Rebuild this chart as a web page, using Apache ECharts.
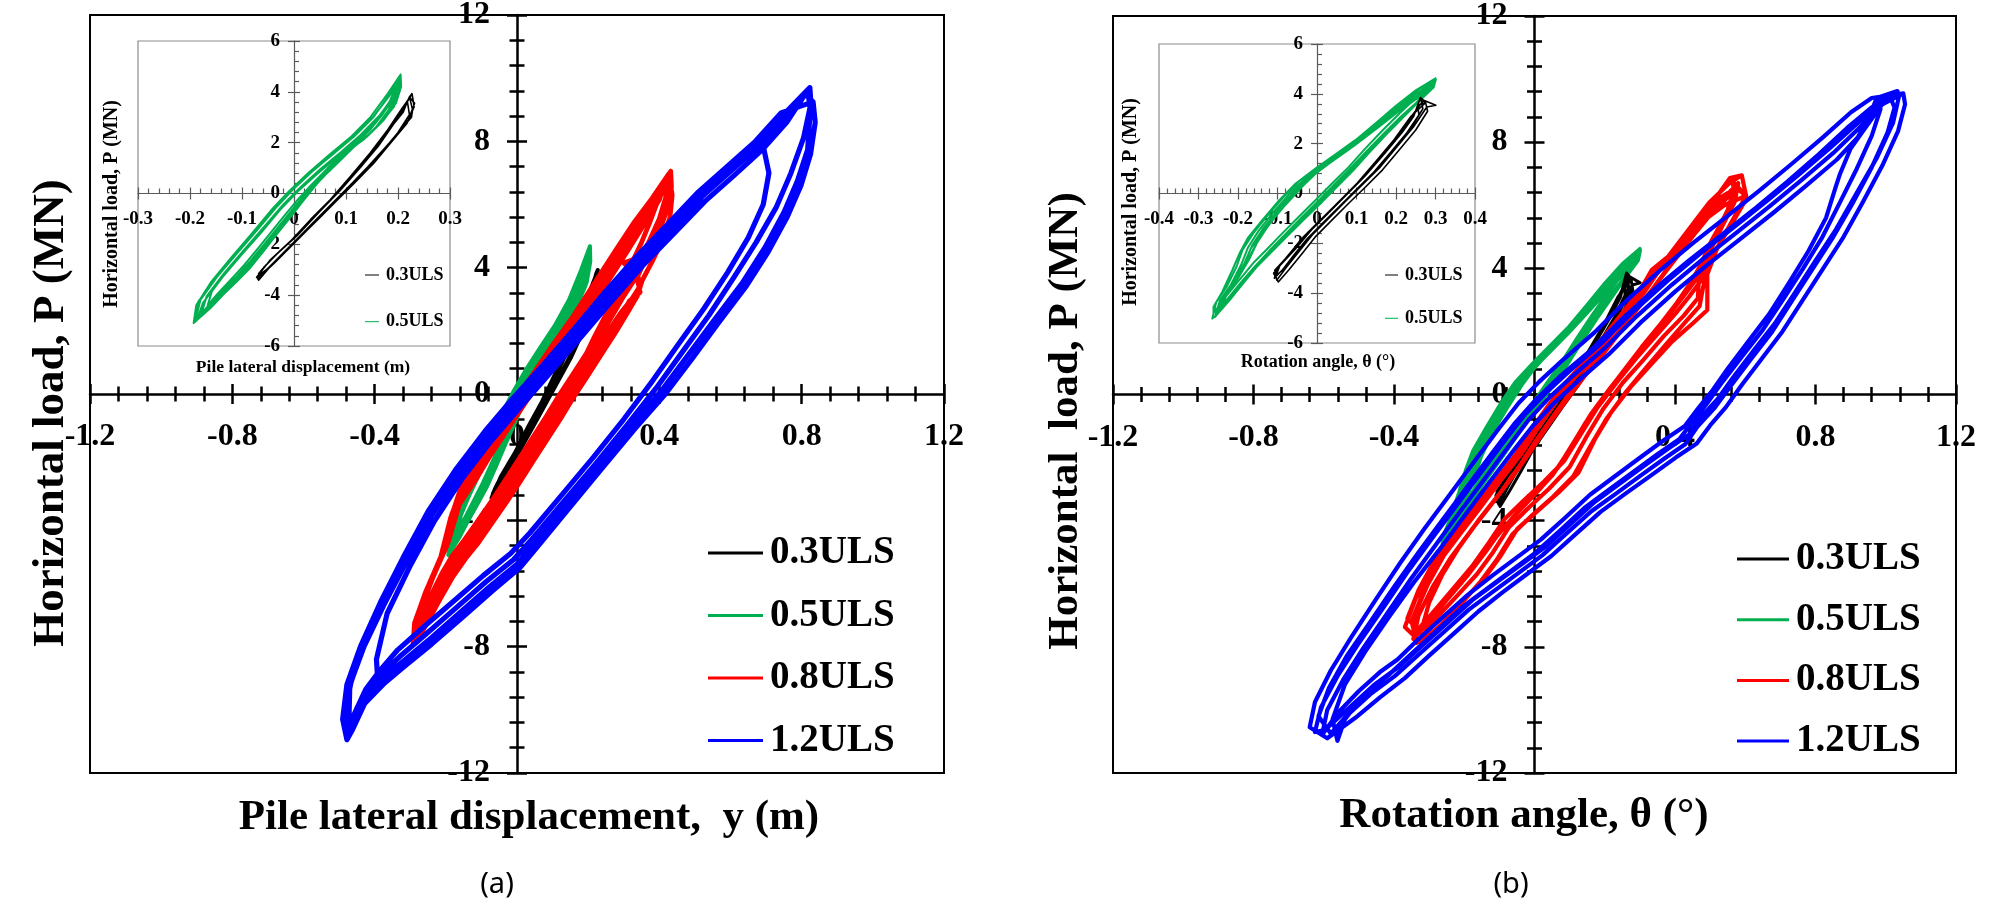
<!DOCTYPE html>
<html>
<head>
<meta charset="utf-8">
<script src="https://cdn.jsdelivr.net/npm/echarts@6/dist/echarts.min.js"></script>
<style>html,body{margin:0;padding:0;background:#fff;}#c{width:2008px;height:907px;}</style>
</head>
<body>
<div id="c"></div>
<script>
// ---------------- DATA ----------------
const seriesNames = ['0.3ULS', '0.5ULS', '0.8ULS', '1.2ULS'];
const mainXRange = [-1.2, 1.2, 0.4];
const mainYRange = [-12, 12, 4];
const insetAXRange = [-0.3, 0.3, 0.1];
const insetBXRange = [-0.4, 0.4, 0.1];
const insetYRange = [-6, 6, 2];

// (a) 1.2ULS : pile lateral displacement (m) vs load (MN)
const blueA1 = [[0.817,9.61],[0.824,9.02],[0.817,7.74],[0.788,6.74],[0.751,5.77],[0.697,4.64],[0.633,3.51],[0.557,2.38],[0.482,1.25],[0.407,0.12],[0.321,-1.01],[0.235,-2.17],[0.138,-3.50],[0.052,-4.69],[0.000,-5.39],[-0.077,-6.10],[-0.163,-6.95],[-0.249,-7.80],[-0.324,-8.50],[-0.378,-9.00],[-0.432,-9.63],[-0.469,-10.48],[-0.480,-10.84],[-0.483,-10.05],[-0.466,-9.10],[-0.430,-8.00],[-0.375,-6.70],[-0.310,-5.30],[-0.240,-3.85],[-0.160,-2.50],[-0.080,-1.35],[0.000,-0.30],[0.080,0.72],[0.170,1.90],[0.260,3.10],[0.350,4.25],[0.440,5.30],[0.520,6.25],[0.600,7.05],[0.680,7.85],[0.750,8.75],[0.817,9.61]];
const blueA2 = [[0.823,9.70],[0.826,9.20],[0.805,8.10],[0.770,7.00],[0.728,5.90],[0.672,4.80],[0.610,3.70],[0.540,2.50],[0.466,1.35],[0.392,0.20],[0.308,-1.00],[0.222,-2.20],[0.128,-3.45],[0.042,-4.60],[-0.010,-5.25],[-0.088,-5.95],[-0.172,-6.78],[-0.258,-7.62],[-0.330,-8.32],[-0.380,-8.85],[-0.420,-9.30],[-0.450,-9.95],[-0.468,-10.70],[-0.472,-10.20],[-0.470,-9.25],[-0.434,-8.02],[-0.379,-6.66],[-0.314,-5.24],[-0.244,-3.78],[-0.164,-2.43],[-0.084,-1.28],[-0.004,-0.23],[0.076,0.80],[0.166,1.98],[0.256,3.18],[0.346,4.33],[0.436,5.38],[0.516,6.33],[0.596,7.13],[0.676,7.93],[0.748,8.83],[0.823,9.70]];
const blueA3 = [[0.810,9.50],[0.775,8.95],[0.730,8.35],[0.692,7.85],[0.708,7.00],[0.692,6.00],[0.650,4.95],[0.592,3.85],[0.525,2.70],[0.452,1.55],[0.380,0.40],[0.300,-0.80],[0.215,-2.00],[0.122,-3.25],[0.036,-4.40],[-0.018,-5.05],[-0.095,-5.75],[-0.180,-6.58],[-0.265,-7.40],[-0.335,-8.10],[-0.385,-8.75],[-0.425,-9.35],[-0.460,-10.20],[-0.475,-10.75],[-0.445,-10.10],[-0.410,-9.35],[-0.392,-8.95],[-0.395,-8.40],[-0.365,-6.95],[-0.302,-5.48],[-0.232,-4.02],[-0.152,-2.65],[-0.072,-1.48],[0.008,-0.43],[0.088,0.60],[0.178,1.78],[0.268,2.97],[0.358,4.12],[0.448,5.16],[0.528,6.10],[0.608,6.90],[0.688,7.72],[0.758,8.60],[0.810,9.50]];
const blueA4 = [[0.832,9.25],[0.838,8.60],[0.825,7.60],[0.798,6.60],[0.760,5.62],[0.706,4.50],[0.642,3.38],[0.566,2.25],[0.492,1.12],[0.417,0.00],[0.330,-1.12],[0.244,-2.28],[0.146,-3.62],[0.060,-4.80],[0.008,-5.50],[-0.068,-6.22],[-0.154,-7.08],[-0.240,-7.92],[-0.316,-8.62],[-0.372,-9.15],[-0.428,-9.80],[-0.462,-10.62],[-0.478,-10.95],[-0.490,-10.30],[-0.478,-9.20],[-0.440,-8.00],[-0.384,-6.60],[-0.320,-5.18],[-0.250,-3.72],[-0.170,-2.36],[-0.090,-1.18],[-0.010,-0.12],[0.070,0.88],[0.160,2.05],[0.250,3.26],[0.340,4.40],[0.430,5.45],[0.510,6.40],[0.590,7.20],[0.670,8.00],[0.742,8.90],[0.832,9.25]];

// (a) 0.8ULS
const redA1 = [[0.426,6.96],[0.428,6.40],[0.414,5.70],[0.392,5.00],[0.362,4.30],[0.340,3.75],[0.345,3.40],[0.322,3.00],[0.290,2.55],[0.255,1.95],[0.215,1.25],[0.175,0.55],[0.140,-0.05],[0.105,-0.70],[0.065,-1.40],[0.025,-2.10],[-0.012,-2.75],[-0.050,-3.40],[-0.090,-4.05],[-0.130,-4.70],[-0.165,-5.20],[-0.197,-5.75],[-0.228,-6.40],[-0.260,-7.10],[-0.287,-7.80],[-0.281,-7.09],[-0.249,-6.10],[-0.206,-4.97],[-0.179,-3.70],[-0.150,-2.70],[-0.110,-1.95],[-0.060,-1.10],[-0.010,-0.25],[0.040,0.55],[0.100,1.55],[0.160,2.50],[0.220,3.55],[0.280,4.60],[0.330,5.45],[0.380,6.20],[0.426,6.96]];
const redA2 = [[0.418,6.80],[0.418,6.20],[0.402,5.50],[0.380,4.82],[0.350,4.12],[0.326,3.55],[0.300,3.10],[0.275,2.62],[0.243,2.00],[0.203,1.30],[0.163,0.60],[0.128,0.00],[0.093,-0.65],[0.053,-1.35],[0.013,-2.05],[-0.024,-2.70],[-0.062,-3.35],[-0.102,-4.00],[-0.142,-4.65],[-0.177,-5.18],[-0.208,-5.75],[-0.238,-6.42],[-0.268,-7.15],[-0.292,-7.92],[-0.288,-7.25],[-0.258,-6.30],[-0.214,-5.15],[-0.186,-3.90],[-0.140,-2.75],[-0.098,-1.98],[-0.048,-1.12],[0.002,-0.28],[0.052,0.52],[0.112,1.52],[0.172,2.48],[0.232,3.52],[0.292,4.58],[0.340,5.40],[0.388,6.10],[0.418,6.80]];
const redA3 = [[0.432,7.05],[0.434,6.55],[0.422,5.85],[0.400,5.15],[0.372,4.45],[0.300,4.15],[0.337,3.70],[0.346,3.22],[0.316,2.95],[0.300,2.60],[0.265,1.95],[0.225,1.25],[0.185,0.55],[0.150,-0.05],[0.115,-0.70],[0.075,-1.40],[0.035,-2.10],[-0.002,-2.75],[-0.040,-3.40],[-0.080,-4.05],[-0.120,-4.70],[-0.156,-5.20],[-0.188,-5.75],[-0.220,-6.40],[-0.252,-7.05],[-0.280,-7.62],[-0.276,-6.95],[-0.243,-5.95],[-0.198,-4.82],[-0.172,-3.55],[-0.126,-2.68],[-0.086,-1.92],[-0.036,-1.08],[0.014,-0.22],[0.064,0.58],[0.124,1.58],[0.184,2.54],[0.244,3.58],[0.302,4.62],[0.350,5.48],[0.398,6.25],[0.432,7.05]];
const redA4 = [[0.422,6.90],[0.420,6.30],[0.400,5.55],[0.372,4.85],[0.342,4.20],[0.318,3.62],[0.290,3.05],[0.262,2.55],[0.232,1.95],[0.193,1.25],[0.153,0.55],[0.118,-0.05],[0.083,-0.70],[0.043,-1.40],[0.003,-2.10],[-0.034,-2.75],[-0.072,-3.40],[-0.110,-4.02],[-0.148,-4.62],[-0.182,-5.12],[-0.212,-5.70],[-0.242,-6.38],[-0.270,-7.05],[-0.290,-7.70],[-0.275,-6.90],[-0.240,-5.90],[-0.195,-4.75],[-0.162,-3.50],[-0.115,-2.70],[-0.075,-1.95],[-0.025,-1.10],[0.025,-0.25],[0.075,0.55],[0.135,1.55],[0.195,2.50],[0.255,3.55],[0.312,4.55],[0.358,5.38],[0.400,6.15],[0.422,6.90]];
const redA5 = [[0.428,6.92],[0.436,6.30],[0.430,5.60],[0.410,4.90],[0.380,4.20],[0.352,3.60],[0.338,3.10],[0.312,2.60],[0.277,1.95],[0.237,1.25],[0.197,0.55],[0.162,-0.05],[0.127,-0.70],[0.087,-1.40],[0.047,-2.10],[0.010,-2.75],[-0.028,-3.40],[-0.068,-4.05],[-0.108,-4.70],[-0.145,-5.22],[-0.180,-5.78],[-0.214,-6.45],[-0.250,-7.20],[-0.284,-7.88],[-0.284,-7.20],[-0.252,-6.20],[-0.210,-5.05],[-0.183,-3.80],[-0.144,-2.72],[-0.104,-1.96],[-0.054,-1.12],[-0.004,-0.26],[0.046,0.54],[0.106,1.54],[0.166,2.50],[0.226,3.55],[0.286,4.60],[0.336,5.44],[0.384,6.18],[0.428,6.92]];
const redA6 = [[0.410,6.60],[0.392,6.00],[0.372,5.40],[0.350,4.80],[0.325,4.20],[0.300,3.60],[0.272,3.00],[0.245,2.40],[0.215,1.75],[0.185,1.05],[0.155,0.40],[0.122,-0.30],[0.085,-1.00],[0.045,-1.72],[0.006,-2.42],[-0.032,-3.08],[-0.070,-3.72],[-0.110,-4.38],[-0.150,-4.95],[-0.186,-5.50],[-0.218,-6.15],[-0.250,-6.85],[-0.278,-7.50],[-0.270,-6.80],[-0.236,-5.80],[-0.192,-4.65],[-0.160,-3.40],[-0.120,-2.60],[-0.080,-1.85],[-0.030,-1.00],[0.020,-0.15],[0.070,0.65],[0.130,1.62],[0.190,2.58],[0.250,3.62],[0.305,4.58],[0.352,5.40],[0.390,6.05],[0.410,6.60]];

// (a) 0.5ULS (also in inset a)
const greenA1 = [[0.203,4.61],[0.204,4.06],[0.192,3.41],[0.166,2.75],[0.140,2.23],[0.115,1.83],[0.096,1.44],[0.063,0.79],[0.038,0.26],[0.012,-0.39],[-0.013,-1.05],[-0.039,-1.70],[-0.065,-2.36],[-0.090,-3.01],[-0.116,-3.54],[-0.142,-4.06],[-0.167,-4.59],[-0.190,-5.05],[-0.180,-4.19],[-0.148,-3.28],[-0.110,-2.36],[-0.071,-1.44],[-0.033,-0.52],[0.000,0.20],[0.038,0.92],[0.076,1.57],[0.115,2.23],[0.153,3.01],[0.185,3.93],[0.203,4.61]];
const greenA2 = [[0.198,4.45],[0.196,3.90],[0.182,3.28],[0.158,2.62],[0.132,2.10],[0.106,1.70],[0.086,1.30],[0.054,0.66],[0.028,0.12],[0.002,-0.52],[-0.024,-1.18],[-0.050,-1.84],[-0.076,-2.50],[-0.101,-3.14],[-0.127,-3.68],[-0.152,-4.20],[-0.176,-4.70],[-0.186,-4.95],[-0.175,-4.30],[-0.142,-3.40],[-0.104,-2.48],[-0.064,-1.56],[-0.026,-0.62],[0.008,0.10],[0.046,0.80],[0.084,1.45],[0.122,2.12],[0.160,2.90],[0.190,3.80],[0.198,4.45]];
const greenA3 = [[0.205,4.68],[0.206,4.20],[0.196,3.55],[0.172,2.88],[0.146,2.36],[0.120,1.95],[0.100,1.56],[0.068,0.90],[0.044,0.38],[0.018,-0.28],[-0.007,-0.94],[-0.033,-1.60],[-0.058,-2.26],[-0.084,-2.92],[-0.110,-3.46],[-0.136,-3.98],[-0.160,-4.50],[-0.193,-5.10],[-0.188,-4.40],[-0.160,-3.50],[-0.122,-2.55],[-0.082,-1.60],[-0.044,-0.66],[-0.010,0.08],[0.028,0.82],[0.068,1.52],[0.108,2.20],[0.146,2.98],[0.180,3.92],[0.205,4.68]];
const greenA4 = [[0.200,4.30],[0.190,3.75],[0.170,3.10],[0.148,2.55],[0.124,2.05],[0.100,1.62],[0.075,1.12],[0.048,0.55],[0.020,-0.05],[-0.006,-0.70],[-0.032,-1.36],[-0.058,-2.02],[-0.084,-2.66],[-0.110,-3.25],[-0.136,-3.80],[-0.160,-4.30],[-0.178,-4.72],[-0.168,-4.05],[-0.135,-3.15],[-0.096,-2.22],[-0.058,-1.32],[-0.020,-0.42],[0.014,0.28],[0.052,0.98],[0.090,1.62],[0.128,2.30],[0.165,3.08],[0.188,3.70],[0.200,4.30]];
const greenA5 = [[0.202,4.52],[0.200,3.98],[0.187,3.35],[0.162,2.68],[0.136,2.16],[0.110,1.76],[0.091,1.37],[0.058,0.72],[0.033,0.19],[0.007,-0.46],[-0.018,-1.12],[-0.044,-1.78],[-0.070,-2.43],[-0.095,-3.08],[-0.121,-3.61],[-0.147,-4.13],[-0.172,-4.65],[-0.188,-5.00],[-0.184,-4.25],[-0.152,-3.35],[-0.116,-2.42],[-0.076,-1.50],[-0.038,-0.57],[-0.004,0.14],[0.034,0.86],[0.072,1.50],[0.112,2.18],[0.150,2.96],[0.184,3.86],[0.202,4.52]];
const greenA6 = [[0.196,4.20],[0.184,3.62],[0.162,2.98],[0.138,2.42],[0.114,1.92],[0.090,1.48],[0.064,0.98],[0.036,0.40],[0.008,-0.22],[-0.018,-0.86],[-0.044,-1.52],[-0.070,-2.18],[-0.096,-2.82],[-0.122,-3.40],[-0.146,-3.92],[-0.166,-4.40],[-0.158,-3.85],[-0.126,-2.98],[-0.088,-2.06],[-0.050,-1.18],[-0.012,-0.30],[0.022,0.40],[0.060,1.08],[0.098,1.72],[0.136,2.40],[0.170,3.12],[0.190,3.66],[0.196,4.20]];

// (a) 0.3ULS (also in inset a)
const blackA1 = [[0.227,3.93],[0.231,3.41],[0.217,2.75],[0.185,1.97],[0.153,1.18],[0.115,0.39],[0.083,-0.26],[0.051,-0.92],[0.019,-1.57],[-0.013,-2.23],[-0.046,-2.88],[-0.068,-3.41],[-0.068,-3.15],[-0.039,-2.49],[0.000,-1.77],[0.038,-0.92],[0.076,-0.13],[0.115,0.79],[0.153,1.70],[0.185,2.62],[0.211,3.41],[0.227,3.93]];
const blackA2 = [[0.222,3.80],[0.228,3.30],[0.226,3.00],[0.205,2.50],[0.176,1.82],[0.142,1.05],[0.106,0.28],[0.074,-0.38],[0.042,-1.04],[0.010,-1.70],[-0.022,-2.36],[-0.052,-2.98],[-0.072,-3.30],[-0.062,-3.00],[-0.032,-2.36],[0.006,-1.66],[0.044,-0.82],[0.082,-0.02],[0.120,0.88],[0.158,1.78],[0.188,2.66],[0.212,3.35],[0.222,3.80]];
const blackA3 = [[0.225,3.85],[0.232,3.55],[0.220,2.90],[0.195,2.25],[0.163,1.45],[0.125,0.62],[0.092,-0.06],[0.060,-0.72],[0.028,-1.38],[-0.004,-2.04],[-0.036,-2.70],[-0.066,-3.28],[-0.072,-3.30],[-0.045,-2.60],[-0.006,-1.86],[0.032,-1.02],[0.070,-0.24],[0.108,0.66],[0.146,1.58],[0.180,2.50],[0.206,3.30],[0.225,3.85]];
const blackA4 = [[0.218,3.62],[0.222,3.10],[0.200,2.40],[0.170,1.66],[0.136,0.88],[0.100,0.12],[0.068,-0.52],[0.036,-1.18],[0.004,-1.84],[-0.028,-2.50],[-0.058,-3.10],[-0.070,-3.36],[-0.058,-2.90],[-0.026,-2.24],[0.012,-1.52],[0.050,-0.70],[0.088,0.10],[0.126,0.98],[0.162,1.86],[0.192,2.74],[0.210,3.20],[0.218,3.62]];

// (b) 1.2ULS : rotation angle (deg) vs load (MN)
const blueB1 = [[1.033,9.62],[1.038,9.47],[1.021,8.62],[0.974,7.49],[0.916,6.36],[0.858,5.23],[0.800,4.24],[0.742,3.24],[0.684,2.25],[0.625,1.41],[0.567,0.56],[0.521,-0.15],[0.474,-0.72],[0.439,-1.28],[0.381,-1.71],[0.311,-2.27],[0.241,-2.84],[0.172,-3.40],[0.102,-4.11],[0.032,-4.82],[-0.038,-5.39],[-0.108,-5.95],[-0.177,-6.52],[-0.247,-7.23],[-0.317,-7.93],[-0.387,-8.64],[-0.457,-9.21],[-0.526,-9.92],[-0.596,-10.63],[-0.625,-10.70],[-0.608,-9.92],[-0.561,-8.93],[-0.503,-7.93],[-0.433,-6.80],[-0.364,-5.67],[-0.294,-4.60],[-0.224,-3.55],[-0.154,-2.50],[-0.084,-1.45],[-0.026,-0.62],[0.032,0.05],[0.100,0.75],[0.190,1.62],[0.280,2.62],[0.380,3.62],[0.470,4.45],[0.567,5.30],[0.660,6.12],[0.750,6.95],[0.840,7.80],[0.920,8.60],[0.980,9.20],[1.033,9.62]];
const blueB2 = [[0.974,9.40],[0.985,9.05],[0.960,8.20],[0.915,7.10],[0.870,6.10],[0.820,5.00],[0.765,4.00],[0.708,3.02],[0.650,2.05],[0.592,1.22],[0.535,0.40],[0.490,-0.30],[0.448,-0.90],[0.412,-1.42],[0.352,-1.88],[0.282,-2.45],[0.212,-3.02],[0.142,-3.60],[0.072,-4.32],[0.002,-5.02],[-0.068,-5.60],[-0.138,-6.18],[-0.208,-6.76],[-0.278,-7.48],[-0.348,-8.20],[-0.418,-8.92],[-0.488,-9.55],[-0.540,-10.30],[-0.561,-10.98],[-0.575,-10.30],[-0.540,-9.20],[-0.482,-8.15],[-0.412,-7.02],[-0.343,-5.95],[-0.273,-4.95],[-0.203,-3.90],[-0.133,-2.85],[-0.063,-1.82],[-0.005,-1.00],[0.053,-0.30],[0.121,0.40],[0.211,1.27],[0.301,2.27],[0.401,3.27],[0.491,4.10],[0.588,4.95],[0.681,5.77],[0.771,6.60],[0.861,7.45],[0.920,8.15],[0.955,8.85],[0.974,9.40]];
const blueB3 = [[1.050,9.55],[1.055,9.20],[1.035,8.35],[0.990,7.25],[0.935,6.10],[0.880,5.00],[0.822,4.00],[0.764,3.00],[0.706,2.00],[0.648,1.15],[0.590,0.30],[0.545,-0.40],[0.500,-0.98],[0.462,-1.55],[0.402,-2.00],[0.330,-2.58],[0.258,-3.15],[0.188,-3.72],[0.118,-4.42],[0.048,-5.12],[-0.022,-5.70],[-0.092,-6.28],[-0.160,-6.88],[-0.230,-7.58],[-0.300,-8.28],[-0.370,-9.00],[-0.440,-9.60],[-0.510,-10.25],[-0.590,-10.90],[-0.640,-10.55],[-0.625,-9.75],[-0.580,-8.75],[-0.522,-7.70],[-0.452,-6.50],[-0.383,-5.35],[-0.313,-4.25],[-0.243,-3.20],[-0.173,-2.15],[-0.103,-1.10],[-0.045,-0.27],[0.013,0.40],[0.081,1.10],[0.171,1.97],[0.261,2.97],[0.361,3.97],[0.451,4.80],[0.548,5.65],[0.641,6.47],[0.731,7.30],[0.821,8.15],[0.901,8.95],[0.960,9.40],[1.050,9.55]];
const blueB4 = [[0.990,9.20],[0.945,8.50],[0.900,7.80],[0.870,7.00],[0.858,6.60],[0.830,5.60],[0.780,4.55],[0.725,3.55],[0.668,2.55],[0.610,1.70],[0.552,0.85],[0.508,0.15],[0.465,-0.45],[0.428,-1.00],[0.368,-1.45],[0.298,-2.02],[0.228,-2.60],[0.158,-3.18],[0.088,-3.90],[0.018,-4.60],[-0.052,-5.18],[-0.122,-5.76],[-0.190,-6.35],[-0.260,-7.05],[-0.330,-7.75],[-0.390,-8.40],[-0.440,-8.80],[-0.500,-9.40],[-0.560,-10.10],[-0.605,-10.80],[-0.590,-10.00],[-0.545,-9.05],[-0.488,-8.05],[-0.420,-6.95],[-0.352,-5.85],[-0.282,-4.78],[-0.212,-3.72],[-0.142,-2.67],[-0.072,-1.62],[-0.015,-0.78],[0.042,-0.10],[0.110,0.60],[0.200,1.47],[0.290,2.47],[0.390,3.47],[0.480,4.30],[0.577,5.15],[0.670,5.97],[0.760,6.80],[0.850,7.65],[0.920,8.40],[0.960,8.85],[0.990,9.20]];
const blueB5 = [[1.010,9.50],[1.025,9.10],[1.005,8.30],[0.960,7.20],[0.905,6.05],[0.848,4.95],[0.790,3.95],[0.732,2.95],[0.674,1.95],[0.615,1.10],[0.557,0.25],[0.511,-0.45],[0.464,-1.02],[0.429,-1.58],[0.371,-2.02],[0.301,-2.58],[0.231,-3.15],[0.162,-3.70],[0.092,-4.40],[0.022,-5.10],[-0.048,-5.68],[-0.118,-6.25],[-0.187,-6.82],[-0.257,-7.52],[-0.327,-8.22],[-0.397,-8.92],[-0.467,-9.50],[-0.536,-10.20],[-0.580,-10.75],[-0.615,-10.20],[-0.585,-9.30],[-0.535,-8.30],[-0.470,-7.25],[-0.400,-6.10],[-0.330,-5.00],[-0.260,-3.95],[-0.190,-2.90],[-0.120,-1.85],[-0.055,-0.90],[0.005,-0.15],[0.070,0.55],[0.160,1.40],[0.250,2.40],[0.350,3.42],[0.440,4.25],[0.537,5.10],[0.630,5.92],[0.720,6.75],[0.810,7.62],[0.890,8.45],[0.960,9.10],[1.010,9.50]];

// (b) 0.8ULS
const redB1 = [[0.590,6.95],[0.604,6.22],[0.567,5.51],[0.521,4.66],[0.492,3.81],[0.492,2.68],[0.451,2.26],[0.393,1.69],[0.334,0.98],[0.276,0.27],[0.218,-0.57],[0.172,-1.42],[0.125,-2.48],[0.067,-3.12],[0.009,-3.69],[-0.049,-4.26],[-0.096,-5.11],[-0.142,-5.81],[-0.201,-6.52],[-0.259,-7.23],[-0.323,-7.87],[-0.369,-7.37],[-0.340,-6.52],[-0.294,-5.53],[-0.236,-4.68],[-0.177,-3.83],[-0.119,-2.98],[-0.061,-2.13],[-0.015,-1.28],[0.031,-0.57],[0.078,0.13],[0.136,0.84],[0.206,1.83],[0.276,2.82],[0.334,3.95],[0.381,4.38],[0.439,5.23],[0.497,6.08],[0.556,6.71],[0.590,6.95]];
const redB2 = [[0.556,6.86],[0.575,6.40],[0.545,5.70],[0.505,4.90],[0.470,4.05],[0.465,3.05],[0.425,2.50],[0.368,1.85],[0.310,1.10],[0.252,0.38],[0.196,-0.45],[0.150,-1.30],[0.100,-2.30],[0.042,-2.98],[-0.016,-3.58],[-0.072,-4.20],[-0.118,-5.00],[-0.164,-5.70],[-0.222,-6.40],[-0.280,-7.10],[-0.335,-7.87],[-0.350,-7.20],[-0.318,-6.30],[-0.272,-5.30],[-0.214,-4.45],[-0.155,-3.60],[-0.098,-2.75],[-0.040,-1.92],[0.005,-1.08],[0.050,-0.38],[0.098,0.32],[0.156,1.04],[0.226,2.02],[0.296,3.00],[0.352,4.02],[0.400,4.55],[0.458,5.38],[0.514,6.20],[0.556,6.86]];
const redB3 = [[0.602,6.30],[0.580,5.85],[0.540,5.05],[0.500,4.25],[0.480,3.40],[0.470,2.80],[0.430,2.30],[0.375,1.60],[0.318,0.85],[0.262,0.10],[0.206,-0.75],[0.160,-1.62],[0.110,-2.60],[0.052,-3.25],[-0.006,-3.82],[-0.062,-4.42],[-0.108,-5.25],[-0.155,-5.95],[-0.212,-6.68],[-0.270,-7.35],[-0.310,-7.70],[-0.362,-7.10],[-0.330,-6.20],[-0.284,-5.25],[-0.226,-4.40],[-0.168,-3.55],[-0.110,-2.72],[-0.052,-1.88],[-0.006,-1.06],[0.040,-0.34],[0.088,0.36],[0.146,1.10],[0.216,2.10],[0.286,3.10],[0.345,3.95],[0.420,4.70],[0.480,5.50],[0.540,6.00],[0.602,6.30]];
const redB4 = [[0.575,6.55],[0.560,6.00],[0.525,5.20],[0.492,4.35],[0.480,3.70],[0.440,3.10],[0.400,2.55],[0.345,1.85],[0.290,1.15],[0.235,0.40],[0.180,-0.40],[0.135,-1.20],[0.085,-2.10],[0.028,-2.75],[-0.030,-3.35],[-0.085,-3.95],[-0.130,-4.70],[-0.178,-5.45],[-0.235,-6.20],[-0.292,-6.95],[-0.340,-7.55],[-0.340,-6.95],[-0.305,-6.05],[-0.258,-5.10],[-0.200,-4.25],[-0.142,-3.40],[-0.085,-2.56],[-0.028,-1.72],[0.018,-0.92],[0.064,-0.20],[0.112,0.50],[0.170,1.25],[0.240,2.22],[0.310,3.20],[0.366,4.12],[0.420,4.90],[0.476,5.70],[0.530,6.25],[0.575,6.55]];
const redB5 = [[0.580,6.70],[0.570,6.10],[0.535,5.35],[0.500,4.55],[0.470,3.80],[0.430,3.20],[0.385,2.55],[0.330,1.80],[0.272,1.00],[0.215,0.20],[0.162,-0.60],[0.115,-1.45],[0.068,-2.30],[0.015,-3.00],[-0.040,-3.65],[-0.095,-4.30],[-0.140,-5.00],[-0.188,-5.70],[-0.245,-6.45],[-0.300,-7.20],[-0.345,-7.75],[-0.330,-7.00],[-0.290,-6.10],[-0.240,-5.20],[-0.180,-4.30],[-0.120,-3.45],[-0.062,-2.60],[-0.008,-1.75],[0.040,-0.95],[0.090,-0.20],[0.140,0.55],[0.200,1.35],[0.265,2.30],[0.330,3.25],[0.385,4.10],[0.440,4.95],[0.495,5.75],[0.545,6.30],[0.580,6.70]];
const redB6 = [[0.565,6.40],[0.550,5.85],[0.515,5.05],[0.480,4.25],[0.445,3.55],[0.405,2.90],[0.360,2.25],[0.305,1.50],[0.250,0.70],[0.195,-0.10],[0.145,-0.90],[0.100,-1.75],[0.052,-2.55],[-0.002,-3.20],[-0.058,-3.85],[-0.112,-4.55],[-0.160,-5.25],[-0.210,-6.00],[-0.268,-6.75],[-0.320,-7.40],[-0.300,-6.60],[-0.262,-5.70],[-0.215,-4.85],[-0.160,-4.00],[-0.100,-3.15],[-0.045,-2.30],[0.005,-1.45],[0.052,-0.70],[0.100,0.05],[0.152,0.80],[0.215,1.65],[0.285,2.60],[0.350,3.55],[0.405,4.35],[0.460,5.15],[0.515,5.90],[0.565,6.40]];

// (b) 0.5ULS (also in inset b)
const greenB1 = [[0.301,4.58],[0.295,4.25],[0.261,3.74],[0.219,3.07],[0.177,2.40],[0.134,1.67],[0.092,0.93],[0.050,0.26],[0.008,-0.41],[-0.035,-1.07],[-0.077,-1.74],[-0.119,-2.41],[-0.153,-2.95],[-0.187,-3.61],[-0.221,-4.28],[-0.255,-4.89],[-0.265,-5.02],[-0.255,-4.36],[-0.229,-3.75],[-0.204,-2.95],[-0.189,-2.28],[-0.162,-1.61],[-0.128,-0.94],[-0.085,-0.14],[-0.043,0.53],[0.008,1.13],[0.058,1.67],[0.109,2.27],[0.160,2.94],[0.211,3.61],[0.261,4.21],[0.301,4.58]];
const greenB2 = [[0.296,4.50],[0.285,4.10],[0.248,3.58],[0.205,2.92],[0.162,2.24],[0.120,1.52],[0.078,0.80],[0.036,0.12],[-0.006,-0.55],[-0.048,-1.22],[-0.090,-1.90],[-0.130,-2.55],[-0.165,-3.12],[-0.198,-3.78],[-0.230,-4.42],[-0.258,-4.95],[-0.246,-4.30],[-0.218,-3.66],[-0.192,-2.86],[-0.175,-2.18],[-0.148,-1.50],[-0.114,-0.82],[-0.070,-0.02],[-0.028,0.64],[0.022,1.22],[0.072,1.76],[0.122,2.36],[0.172,3.02],[0.222,3.66],[0.270,4.20],[0.296,4.50]];
const greenB3 = [[0.300,4.62],[0.290,4.35],[0.252,3.86],[0.208,3.20],[0.165,2.52],[0.122,1.80],[0.080,1.06],[0.038,0.40],[-0.004,-0.27],[-0.046,-0.93],[-0.088,-1.60],[-0.128,-2.26],[-0.162,-2.80],[-0.196,-3.46],[-0.230,-4.12],[-0.262,-4.80],[-0.262,-4.55],[-0.240,-3.95],[-0.215,-3.10],[-0.196,-2.40],[-0.175,-1.78],[-0.140,-1.10],[-0.096,-0.28],[-0.054,0.40],[-0.004,1.00],[0.046,1.56],[0.098,2.15],[0.150,2.84],[0.200,3.52],[0.250,4.14],[0.300,4.62]];
const greenB4 = [[0.285,4.30],[0.270,3.90],[0.232,3.36],[0.190,2.70],[0.148,2.02],[0.106,1.32],[0.064,0.62],[0.022,-0.06],[-0.020,-0.72],[-0.062,-1.40],[-0.104,-2.06],[-0.142,-2.70],[-0.176,-3.30],[-0.210,-3.95],[-0.240,-4.55],[-0.228,-4.00],[-0.200,-3.40],[-0.172,-2.65],[-0.152,-1.98],[-0.124,-1.30],[-0.090,-0.62],[-0.046,0.16],[-0.004,0.80],[0.044,1.36],[0.094,1.92],[0.144,2.52],[0.194,3.16],[0.242,3.78],[0.285,4.30]];
const greenB5 = [[0.292,4.40],[0.278,4.00],[0.240,3.46],[0.198,2.80],[0.155,2.12],[0.113,1.40],[0.071,0.70],[0.029,0.02],[-0.013,-0.64],[-0.055,-1.30],[-0.097,-1.98],[-0.136,-2.62],[-0.170,-3.20],[-0.204,-3.86],[-0.236,-4.50],[-0.250,-4.75],[-0.238,-4.15],[-0.210,-3.52],[-0.182,-2.76],[-0.164,-2.08],[-0.136,-1.40],[-0.102,-0.72],[-0.058,0.06],[-0.016,0.72],[0.034,1.28],[0.084,1.84],[0.134,2.44],[0.184,3.08],[0.234,3.72],[0.278,4.24],[0.292,4.40]];
const greenB6 = [[0.280,4.15],[0.262,3.78],[0.224,3.24],[0.182,2.58],[0.140,1.90],[0.098,1.20],[0.056,0.50],[0.014,-0.18],[-0.028,-0.84],[-0.070,-1.52],[-0.112,-2.18],[-0.150,-2.82],[-0.184,-3.42],[-0.218,-4.08],[-0.246,-4.65],[-0.236,-4.20],[-0.212,-3.60],[-0.186,-2.88],[-0.168,-2.22],[-0.138,-1.52],[-0.102,-0.82],[-0.060,-0.05],[-0.018,0.62],[0.030,1.20],[0.080,1.76],[0.130,2.36],[0.180,3.00],[0.230,3.62],[0.280,4.15]];
const greenB7 = [[0.270,4.00],[0.250,3.62],[0.212,3.08],[0.170,2.42],[0.128,1.74],[0.086,1.04],[0.044,0.36],[0.002,-0.32],[-0.040,-0.98],[-0.082,-1.66],[-0.122,-2.32],[-0.160,-2.98],[-0.194,-3.60],[-0.226,-4.22],[-0.244,-4.50],[-0.226,-3.90],[-0.198,-3.25],[-0.170,-2.52],[-0.148,-1.84],[-0.116,-1.14],[-0.080,-0.46],[-0.036,0.30],[0.006,0.94],[0.054,1.48],[0.104,2.04],[0.154,2.64],[0.204,3.26],[0.250,3.78],[0.270,4.00]];

// (b) 0.3ULS (also in inset b)
const blackB1 = [[0.270,3.74],[0.301,3.54],[0.278,3.47],[0.244,2.67],[0.202,1.87],[0.160,1.06],[0.118,0.40],[0.075,-0.27],[0.033,-0.94],[-0.009,-1.61],[-0.043,-2.28],[-0.077,-2.95],[-0.102,-3.48],[-0.107,-3.08],[-0.068,-2.41],[-0.026,-1.61],[0.025,-0.81],[0.067,-0.14],[0.109,0.53],[0.160,1.47],[0.202,2.27],[0.244,3.20],[0.270,3.74]];
const blackB2 = [[0.262,3.85],[0.268,3.40],[0.236,2.58],[0.194,1.78],[0.152,0.98],[0.110,0.32],[0.067,-0.36],[0.025,-1.03],[-0.017,-1.70],[-0.051,-2.36],[-0.085,-3.02],[-0.108,-3.40],[-0.100,-3.00],[-0.060,-2.32],[-0.018,-1.52],[0.033,-0.72],[0.075,-0.05],[0.117,0.62],[0.168,1.56],[0.210,2.36],[0.248,3.25],[0.262,3.85]];
const blackB3 = [[0.275,3.65],[0.280,3.30],[0.250,2.55],[0.208,1.75],[0.166,0.95],[0.124,0.28],[0.081,-0.38],[0.039,-1.05],[-0.003,-1.72],[-0.037,-2.40],[-0.071,-3.06],[-0.098,-3.55],[-0.110,-3.20],[-0.075,-2.52],[-0.033,-1.72],[0.018,-0.92],[0.060,-0.25],[0.102,0.42],[0.153,1.36],[0.195,2.16],[0.238,3.10],[0.275,3.65]];
const blackB4 = [[0.255,3.55],[0.258,3.15],[0.228,2.45],[0.186,1.65],[0.144,0.86],[0.102,0.20],[0.059,-0.48],[0.017,-1.15],[-0.025,-1.82],[-0.059,-2.48],[-0.090,-3.12],[-0.104,-3.30],[-0.094,-2.90],[-0.054,-2.22],[-0.012,-1.42],[0.039,-0.62],[0.081,0.05],[0.123,0.72],[0.174,1.66],[0.216,2.46],[0.245,3.10],[0.255,3.55]];

// ---------------- CHART ----------------
const FONT = '"Liberation Serif", "Times New Roman", serif';
const COLORS = {'0.3ULS':'#000000','0.5ULS':'#00B050','0.8ULS':'#FF0000','1.2ULS':'#0000FF'};

const blackA = [].concat(blackA1, blackA2, blackA3, blackA4);
const greenA = [].concat(greenA1, greenA2, greenA3, greenA4, greenA5, greenA6);
const redA = [].concat(redA1, redA2, redA3, redA4, redA5, redA6);
const blueA = [].concat(blueA1, blueA2, blueA3, blueA4);
const blackB = [].concat(blackB1, blackB2, blackB3, blackB4);
const greenB = [].concat(greenB1, greenB2, greenB3, greenB4, greenB5, greenB6, greenB7);
const redB = [].concat(redB1, redB2, redB3, redB4, redB5, redB6);
const blueB = [].concat(blueB1, blueB2, blueB3, blueB4, blueB5);

const grids = [
  {left:90, top:15, width:854, height:758, show:true, borderColor:'#000', borderWidth:2, backgroundColor:'transparent', outerBoundsMode:'none', containLabel:false},
  {left:138, top:41, width:312, height:305, show:true, borderColor:'#8c8c8c', borderWidth:1.2, backgroundColor:'transparent', outerBoundsMode:'none', containLabel:false},
  {left:1113, top:16, width:843, height:757, show:true, borderColor:'#000', borderWidth:2, backgroundColor:'transparent', outerBoundsMode:'none', containLabel:false},
  {left:1159, top:44, width:316, height:299, show:true, borderColor:'#8c8c8c', borderWidth:1.2, backgroundColor:'transparent', outerBoundsMode:'none', containLabel:false}
];

function fmt(v) { return '{t|' + (+(+v).toFixed(3)) + '}'; }

// place each axis on the zero line of the other axis using offset
function axisPair(dim, g, range, otherRange, main) {
  const gr = grids[g];
  const size = dim === 'x' ? gr.height : gr.width;
  const zeroOff = -size * (0 - otherRange[0]) / (otherRange[1] - otherRange[0]);
  const c = main ? '#000' : '#5a5a5a';
  const lw = main ? 2.5 : 1.2;
  const tl = main ? 10 : 6;
  const ml = main ? 7.5 : 5;
  const fs = main ? 32 : 19;
  const base = {type:'value', gridIndex:g, min:range[0], max:range[1], interval:range[2],
    position: dim === 'x' ? 'bottom' : 'left', offset: zeroOff,
    splitLine:{show:false}, minorSplitLine:{show:false}};
  const lbl = {show:true, margin: main ? 27 : (dim==='x'?16:14),
    formatter: fmt, fontFamily:FONT, fontWeight:'bold', fontSize:fs, color:'#000',
    rich:{t:{fontFamily:FONT, fontWeight:'bold', fontSize:fs, lineHeight:fs, color:'#000'}},
    showMinLabel:true, showMaxLabel:true, hideOverlap:false};
  const outer = Object.assign({}, base, {
    axisLine:{show:true, onZero:false, lineStyle:{color:c, width:lw}},
    axisTick:{show:true, inside:false, length:tl, lineStyle:{color:c, width:lw}},
    minorTick:{show:main, splitNumber:5, length:ml, lineStyle:{color:c, width:lw}},
    axisLabel:lbl});
  const inner = Object.assign({}, base, {
    axisLine:{show:false, onZero:false},
    axisTick:{show:true, inside:true, length:tl, lineStyle:{color:c, width:lw}},
    minorTick:{show:true, splitNumber:5, length:ml, lineStyle:{color:c, width:lw}},
    axisLabel:{show:false}});
  return [outer, inner];
}

const xAxes = [].concat(
  axisPair('x', 0, mainXRange, mainYRange, true), axisPair('x', 1, insetAXRange, insetYRange, false),
  axisPair('x', 2, mainXRange, mainYRange, true), axisPair('x', 3, insetBXRange, insetYRange, false));
const yAxes = [].concat(
  axisPair('y', 0, mainYRange, mainXRange, true), axisPair('y', 1, insetYRange, insetAXRange, false),
  axisPair('y', 2, mainYRange, mainXRange, true), axisPair('y', 3, insetYRange, insetBXRange, false));

function ser(name, data, g, width) {
  return {type:'line', name:name, data:data, xAxisIndex:2*g, yAxisIndex:2*g,
    showSymbol:false, symbol:'none', animation:false, silent:true, clip:true,
    color:COLORS[name], itemStyle:{color:COLORS[name]},
    lineStyle:{color:COLORS[name], width:width, join:'round'}};
}
const series = [
  ser(seriesNames[1], greenA, 0, 4.0), ser(seriesNames[0], blackA, 0, 3.8),
  ser(seriesNames[2], redA, 0, 4.8), ser(seriesNames[3], blueA, 0, 5.2),
  ser(seriesNames[1], greenA, 1, 2.0), ser(seriesNames[0], blackA, 1, 1.6),
  ser(seriesNames[1], greenB, 2, 3.6), ser(seriesNames[0], blackB, 2, 3.0),
  ser(seriesNames[2], redB, 2, 4.2), ser(seriesNames[3], blueB, 2, 4.2),
  ser(seriesNames[1], greenB, 3, 2.0), ser(seriesNames[0], blackB, 3, 1.6)
];

function legend(left, top, names, iw, ih, fs, lh, gap) {
  return {show:true, orient:'vertical', left:left, top:top, padding:0, data:names,
    icon:'rect', itemWidth:iw, itemHeight:ih, itemGap:gap, selectedMode:false,
    textStyle:{fontFamily:FONT, fontWeight:'bold', fontSize:fs, lineHeight:lh, color:'#000', padding:[0,0,0,2]}};
}
const legends = [
  legend(708, 533, seriesNames, 55, 3, 39, 40, 22.5),
  legend(1737, 539, seriesNames, 52, 3, 39, 40, 20.7),
  legend(365, 265, seriesNames.slice(0,2), 14, 1, 18, 20, 26.7),
  legend(1385, 265, seriesNames.slice(0,2), 13, 1, 18, 20, 23.3)
];

function txt(x, y, text, font, rot) {
  return {type:'text', x:x, y:y, rotation:rot||0, silent:true,
    style:{text:text, x:0, y:0, font:font, fill:'#000', textAlign:'center', verticalAlign:'middle', textVerticalAlign:'middle'}};
}
const graphics = [
  txt(51, 413, 'Horizontal load, P (MN)', 'bold 45px ' + FONT, Math.PI/2),
  txt(1066, 421, 'Horizontal  load, P (MN)', 'bold 43px ' + FONT, Math.PI/2),
  txt(529, 818, 'Pile lateral displacement,  y (m)', 'bold 43px ' + FONT),
  txt(1524, 816, 'Rotation angle, \u03B8 (\u00B0)', 'bold 43px ' + FONT),
  txt(112, 204, 'Horizontal load, P (MN)', 'bold 20px ' + FONT, Math.PI/2),
  txt(303, 367, 'Pile lateral displacement (m)', 'bold 17.5px ' + FONT),
  txt(1131, 202, 'Horizontal load, P (MN)', 'bold 20px ' + FONT, Math.PI/2),
  txt(1318, 362, 'Rotation angle, \u03B8 (\u00B0)', 'bold 18px ' + FONT),
  txt(497, 885, '(a)', '29px "Noto Sans", "Liberation Sans", sans-serif'),
  txt(1511, 885, '(b)', '29px "Noto Sans", "Liberation Sans", sans-serif')
];

const chart = echarts.init(document.getElementById('c'), null, {renderer:'canvas'});
chart.setOption({
  backgroundColor:'#ffffff',
  animation:false,
  grid:grids, xAxis:xAxes, yAxis:yAxes, series:series, legend:legends,
  graphic:{elements:graphics}
});
</script>
</body>
</html>
